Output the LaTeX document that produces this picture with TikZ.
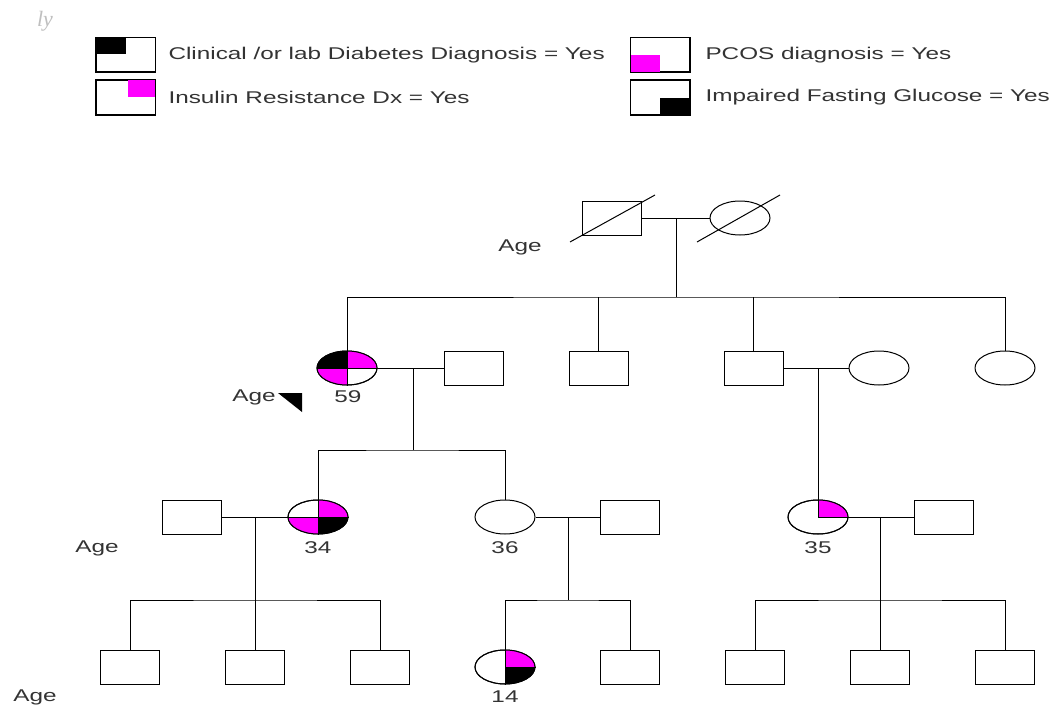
\documentclass[tikz,border=0pt]{standalone}
\usepackage{fontspec}
\setmainfont{Liberation Sans}[FakeStretch=1.43]
\newfontfamily\lyfont{Liberation Serif}
\usetikzlibrary{shapes.geometric}

\definecolor{pcos}{RGB}{255,0,255}
\definecolor{labgray}{RGB}{51,51,51}
\tikzset{
  male/.style   = {draw, rectangle, minimum width=59pt, minimum height=34pt, inner sep=0pt},
  female/.style = {draw, ellipse, minimum width=60pt, minimum height=34pt, inner sep=0pt},
  legtext/.style = {anchor=west, inner sep=0pt, text=labgray},
  agetext/.style = {inner sep=0pt, text=labgray},
}
\newcommand{\pedfont}{\fontsize{17}{20}\selectfont}

\begin{document}
\begin{tikzpicture}[x=1pt, y=-1pt, line width=1pt, font=\pedfont]
  \useasboundingbox (0,0) rectangle (1061,709);
  \fill[white] (0,0) rectangle (1061,709);

  % legend
  \node[text=black!25, font=\lyfont\itshape\fontsize{22}{24}\selectfont] (ly) at (45,21) {ly};
  \node[male] (key1) at (125.5,55) {};
  \node[male] (key2) at (125.5,97.5) {};
  \node[male] (key3) at (660,55) {};
  \node[male] (key4) at (660,97.5) {};
  \fill[black] (key1.north west) rectangle ([shift={(30,17)}]key1.north west);
  \fill[pcos]  (key2.north east) rectangle ([shift={(-28,17)}]key2.north east);
  \fill[pcos]  (key3.south west) rectangle ([shift={(30,-17)}]key3.south west);
  \fill[black] (key4.south east) rectangle ([shift={(-30,-17)}]key4.south east);
  \draw (key1.north west) rectangle (key1.south east);
  \draw (key2.north west) rectangle (key2.south east);
  \draw (key3.north west) rectangle (key3.south east);
  \draw (key4.north west) rectangle (key4.south east);
  \node[legtext] (lab1) at (168,55) {Clinical /or lab Diabetes Diagnosis = Yes};
  \node[legtext] (lab2) at (168,97.5) {Insulin Resistance Dx = Yes};
  \node[legtext] (lab3) at (705,55) {PCOS diagnosis = Yes};
  \node[legtext] (lab4) at (705,97.5) {Impaired Fasting Glucose = Yes};

  % generation I
  \node[male]   (I1) at (612,218) {};
  \node[female] (I2) at (740,218) {};
  \draw ([shift={(-42,24)}]I1.center) -- ([shift={(43,-23)}]I1.center);
  \draw ([shift={(-43,24)}]I2.center) -- ([shift={(40,-23)}]I2.center);
  \node[agetext] (age1) at (520,247) {Age};

  % generation II
  \node[female] (II1) at (347,368) {};
  \node[male]   (II2) at (473.5,368) {};
  \node[male]   (II3) at (598.5,368) {};
  \node[male]   (II4) at (753.5,368) {};
  \node[female] (II5) at (879,368) {};
  \node[female] (II6) at (1005,368) {};
  \begin{scope}
    \clip (347,368) ellipse (30 and 17);
    \fill[black] (347,368) rectangle ++(-30,-17);
    \fill[pcos]  (347,368) rectangle ++(30,-17);
    \fill[pcos]  (347,368) rectangle ++(-30,17);
  \end{scope}
  \draw (II1.north) -- (II1.south) (II1.west) -- (II1.east);
  \node[female] at (II1) {};
  \node[agetext] (n59) at (348,397) {59};
  \node[agetext] (age2) at (254,397) {Age};
  \fill[black] (278,393) -- (302,393) -- (302,412) -- cycle;

  % generation III
  \node[male]   (III1) at (191.5,517) {};
  \node[female] (III2) at (318,517) {};
  \node[female] (III3) at (505,517) {};
  \node[male]   (III4) at (630,517) {};
  \node[female] (III5) at (818,517) {};
  \node[male]   (III6) at (944,517) {};
  \begin{scope}
    \clip (318,517) ellipse (30 and 17);
    \fill[pcos]  (318,517) rectangle ++(30,-17);
    \fill[pcos]  (318,517) rectangle ++(-30,17);
    \fill[black] (318,517) rectangle ++(30,17);
  \end{scope}
  \draw (III2.north) -- (III2.south) (III2.west) -- (III2.east);
  \node[female] at (III2) {};
  \begin{scope}
    \clip (818,517) ellipse (30 and 17);
    \fill[pcos] (818,517) rectangle ++(30,-17);
  \end{scope}
  \draw (III5.north) -- (III5.center) -- (III5.east);
  \node[female] at (III5) {};
  \node[agetext] (n34) at (318,548) {34};
  \node[agetext] (n36) at (505,548) {36};
  \node[agetext] (n35) at (818,548) {35};
  \node[agetext] (age3) at (97,548) {Age};

  % generation IV
  \node[male]   (IV1) at (130,667) {};
  \node[male]   (IV2) at (255,667) {};
  \node[male]   (IV3) at (380,667) {};
  \node[female] (IV4) at (505,667) {};
  \node[male]   (IV5) at (630,667) {};
  \node[male]   (IV6) at (755,667) {};
  \node[male]   (IV7) at (880,667) {};
  \node[male]   (IV8) at (1005,667) {};
  \begin{scope}
    \clip (505,667) ellipse (30 and 17);
    \fill[pcos]  (505,667) rectangle ++(30,-17);
    \fill[black] (505,667) rectangle ++(30,17);
  \end{scope}
  \draw (IV4.north) -- (IV4.south) (IV4.center) -- (IV4.east);
  \node[female] at (IV4) {};
  \node[agetext] (n14) at (505,697) {14};
  \node[agetext] (age4) at (35,697) {Age};

  % marriages and descent lines
  \coordinate (s1) at (676,218);
  \coordinate (t1) at (676,297);
  \coordinate (s2) at (413,368);
  \coordinate (t2) at (413,450);
  \coordinate (s3) at (818,368);
  \coordinate (s4) at (255,517);
  \coordinate (t4) at (255,600);
  \coordinate (s5) at (568,517);
  \coordinate (t5) at (568,600);
  \coordinate (s6) at (880,517);
  \coordinate (t6) at (880,600);

  \draw (I1) -- (I2);
  \draw (s1) -- (t1);
  \draw (II1) |- (t1) -| (II6);
  \draw (II3) -- (II3 |- t1);
  \draw (II4) -- (II4 |- t1);

  \draw (II1) -- (II2);
  \draw (s2) -- (t2);
  \draw (III2) |- (t2) -| (III3);
  \draw (II4) -- (II5);
  \draw (s3) -- (III5);

  \draw (III1) -- (III2);
  \draw (s4) -- (t4);
  \draw (IV1) |- (t4) -| (IV3);
  \draw (IV2) -- (t4);
  \draw (III3) -- (III4);
  \draw (s5) -- (t5);
  \draw (IV4) |- (t5) -| (IV5);
  \draw (III5) -- (III6);
  \draw (s6) -- (IV7);
  \draw (IV6) |- (t6) -| (IV8);
\end{tikzpicture}
\end{document}
